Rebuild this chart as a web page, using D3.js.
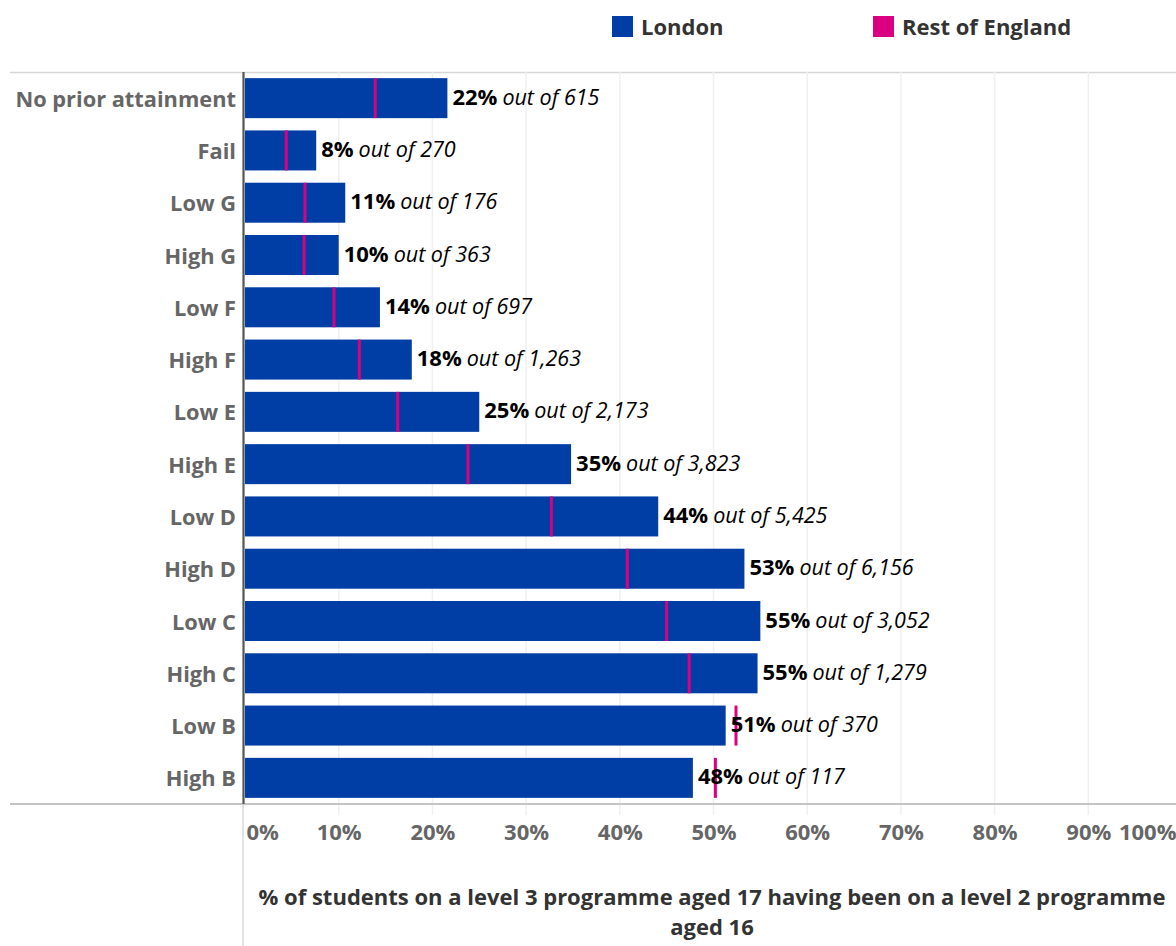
<!DOCTYPE html>
<html>
<head>
<meta charset="utf-8">
<script src="https://cdn.jsdelivr.net/npm/d3@7"></script>
<style>
  html, body { margin: 0; padding: 0; background: #fff; }
  svg { display: block; font-family: "Open Sans", "Noto Sans", sans-serif; }
</style>
</head>
<body>
<svg id="chart" width="1176" height="946"></svg>
<script>
// Prior attainment bands (rows, top to bottom)
const categories = [
  "No prior attainment", "Fail", "Low G", "High G", "Low F", "High F",
  "Low E", "High E", "Low D", "High D", "Low C", "High C", "Low B", "High B"
];
// % progressing to level 3 aged 17 — London
const londonValues = [21.6, 7.6, 10.7, 10.0, 14.4, 17.8, 25.0, 34.8, 44.1, 53.3, 55.0, 54.7, 51.3, 47.8];
// % progressing to level 3 aged 17 — Rest of England (marker)
const restValues = [13.9, 4.4, 6.4, 6.3, 9.5, 12.2, 16.3, 23.8, 32.7, 40.8, 45.0, 47.4, 52.4, 50.2];
// Number of London students in each band
const cohortSizes = [615, 270, 176, 363, 697, 1263, 2173, 3823, 5425, 6156, 3052, 1279, 370, 117];
// Axis tick values
const tickValues = [0, 10, 20, 30, 40, 50, 60, 70, 80, 90, 100];
const seriesNames = ["London", "Rest of England"];
const seriesColors = ["#003DA5", "#DB0080"];
const axisTitle = ["% of students on a level 3 programme aged 17 having been on a level 2 programme", "aged 16"];

const W = 1176, H = 946;
const plot = { left: 245, top: 72, bottom: 804 };

const svg = d3.select("#chart");

const x = d3.scaleLinear().domain([0, 100]).range([plot.left, 1182]);
const y = d3.scaleBand().domain(categories).range([plot.top, plot.bottom])
  .paddingInner(0.235).paddingOuter(0.1175);

const rows = categories.map((c, i) => ({
  cat: c, london: londonValues[i], rest: restValues[i], n: cohortSizes[i]
}));

// Frame lines
svg.append("line").attr("x1", 10).attr("x2", W).attr("y1", plot.top + 0.5).attr("y2", plot.top + 0.5)
  .attr("stroke", "#d6d6d6").attr("stroke-width", 1.5);

// Vertical gridlines
svg.append("g").selectAll("line").data(tickValues.filter(t => t > 0 && t < 100)).join("line")
  .attr("x1", d => x(d)).attr("x2", d => x(d))
  .attr("y1", plot.top).attr("y2", plot.bottom + 11)
  .attr("stroke", "#f0f0f0").attr("stroke-width", 1.5);

// Bottom axis line
svg.append("line").attr("x1", 10).attr("x2", W).attr("y1", plot.bottom).attr("y2", plot.bottom)
  .attr("stroke", "#c4c4c4").attr("stroke-width", 2);

// Left axis: dark within plot, light below
svg.append("line").attr("x1", 243.5).attr("x2", 243.5).attr("y1", plot.top).attr("y2", plot.bottom)
  .attr("stroke", "#555").attr("stroke-width", 2.2);
svg.append("line").attr("x1", 243).attr("x2", 243).attr("y1", plot.bottom).attr("y2", H)
  .attr("stroke", "#cfcfcf").attr("stroke-width", 1.2);

// Bottom tick labels
const xAxis = d3.axisBottom(x).tickValues(tickValues).tickFormat(d => d + "%").tickSize(0).tickPadding(0);
const gx = svg.append("g").attr("transform", `translate(0,${plot.bottom})`).call(xAxis);
gx.select(".domain").remove();
gx.selectAll("text")
  .attr("y", 28).attr("dy", "0.35em")
  .attr("fill", "#666").attr("font-size", 22).attr("font-weight", 700)
  .attr("font-family", "'Open Sans', sans-serif")
  .attr("text-anchor", d => d === 0 ? "start" : d === 100 ? "end" : "middle")
  .attr("x", d => d === 0 ? 1 : d === 100 ? W - x(100) : 0);

// Category labels
svg.append("g").selectAll("text").data(rows).join("text")
  .attr("x", 236).attr("y", d => y(d.cat) + y.bandwidth() / 2 + 1).attr("dy", "0.35em")
  .attr("text-anchor", "end").attr("fill", "#666").attr("font-size", 21.8).attr("font-weight", 700)
  .text(d => d.cat);

// London bars
svg.append("g").selectAll("rect").data(rows).join("rect")
  .attr("x", x(0)).attr("y", d => y(d.cat))
  .attr("width", d => x(d.london) - x(0)).attr("height", y.bandwidth())
  .attr("fill", seriesColors[0]);

// Rest of England markers
svg.append("g").selectAll("rect").data(rows).join("rect")
  .attr("x", d => x(d.rest) - 1.5).attr("y", d => y(d.cat))
  .attr("width", 3).attr("height", y.bandwidth())
  .attr("fill", seriesColors[1]);

// Value labels
const fmtPct = v => Math.round(v) + "%";
const fmtN = d3.format(",");
const vl = svg.append("g").selectAll("text").data(rows).join("text")
  .attr("x", d => x(d.london) + 5).attr("y", d => y(d.cat) + y.bandwidth() / 2 + 1).attr("dy", "0.35em")
  .attr("fill", "#000");
vl.append("tspan").attr("font-weight", 700).attr("font-size", 22).text(d => fmtPct(d.london));
vl.append("tspan").attr("font-style", "italic").attr("font-size", 21.5).attr("dx", 5)
  .text(d => "out of " + fmtN(d.n));

// Legend
const legendX = [612, 873];
const lg = svg.append("g").selectAll("g").data(seriesNames).join("g")
  .attr("transform", (d, i) => `translate(${legendX[i]},16)`);
lg.append("rect").attr("width", 21).attr("height", 21).attr("fill", (d, i) => seriesColors[i]);
lg.append("text").attr("x", 29).attr("y", 11).attr("dy", "0.35em")
  .attr("fill", "#333").attr("font-size", 22).attr("font-weight", 700).text(d => d);

// Axis title
svg.append("g").selectAll("text").data(axisTitle).join("text")
  .attr("x", 712).attr("y", (d, i) => 897 + i * 30).attr("dy", "0.35em")
  .attr("text-anchor", "middle").attr("fill", "#333").attr("font-size", 22).attr("font-weight", 700)
  .text(d => d);
</script>
</body>
</html>
